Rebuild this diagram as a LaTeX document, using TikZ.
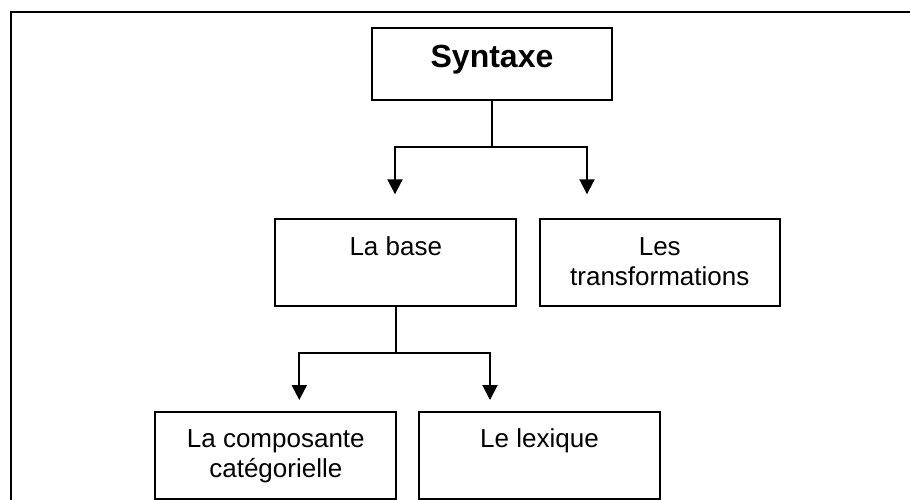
\documentclass[tikz,border=0pt]{standalone}
\usepackage{fontspec}
\setmainfont{Liberation Sans}
\usetikzlibrary{arrows.meta}
\tikzset{
  box/.style={draw, line width=2pt, inner sep=0pt, anchor=north west, align=center,
    minimum width=241pt, minimum height=87pt, text height=35.7pt, text depth=51.3pt,
    font=\fontsize{26}{30}\selectfont},
  twoline/.style={text height=65.7pt, text depth=21.3pt},
  topbox/.style={box, minimum width=240pt, minimum height=72.3pt, text height=40pt, text depth=32.3pt,
    font=\fontsize{32}{38}\selectfont\bfseries},
  conn/.style={line width=2pt},
  arr/.style={conn, -{Triangle[width=15pt,length=15pt]}},
  frame/.style={line width=2pt}
}
\begin{document}
\begin{tikzpicture}[x=1pt,y=-1pt]
\useasboundingbox (0,0) rectangle (910,500);
\draw[frame] (11,500) -- (11,12.3) -- (910,12.3);

\node[topbox] (syn) at (371,26.7) {Syntaxe};
\node[box] (base) at (274.3,218.3) {La base};
\node[box, twoline, minimum width=240.5pt] (trans) at (538.5,218.3) {Les\\transformations};
\node[box, twoline] (comp) at (154.3,411) {La composante\\catégorielle};
\node[box, minimum width=240.4pt] (lex) at (418.3,411) {Le lexique};

\coordinate (j1) at (syn.south |- 0,146.7);
\coordinate (a1) at (395,194.3);
\coordinate (a2) at (587,194.3);
\draw[conn] (syn.south) -- (j1);
\draw[arr] (j1) -| (a1);
\draw[arr] (j1) -| (a2);

\coordinate (j2) at (base.south |- 0,352.7);
\coordinate (a3) at (299.3,400);
\coordinate (a4) at (490,400);
\draw[conn] (base.south) -- (j2);
\draw[arr] (j2) -| (a3);
\draw[arr] (j2) -| (a4);
\end{tikzpicture}
\end{document}
